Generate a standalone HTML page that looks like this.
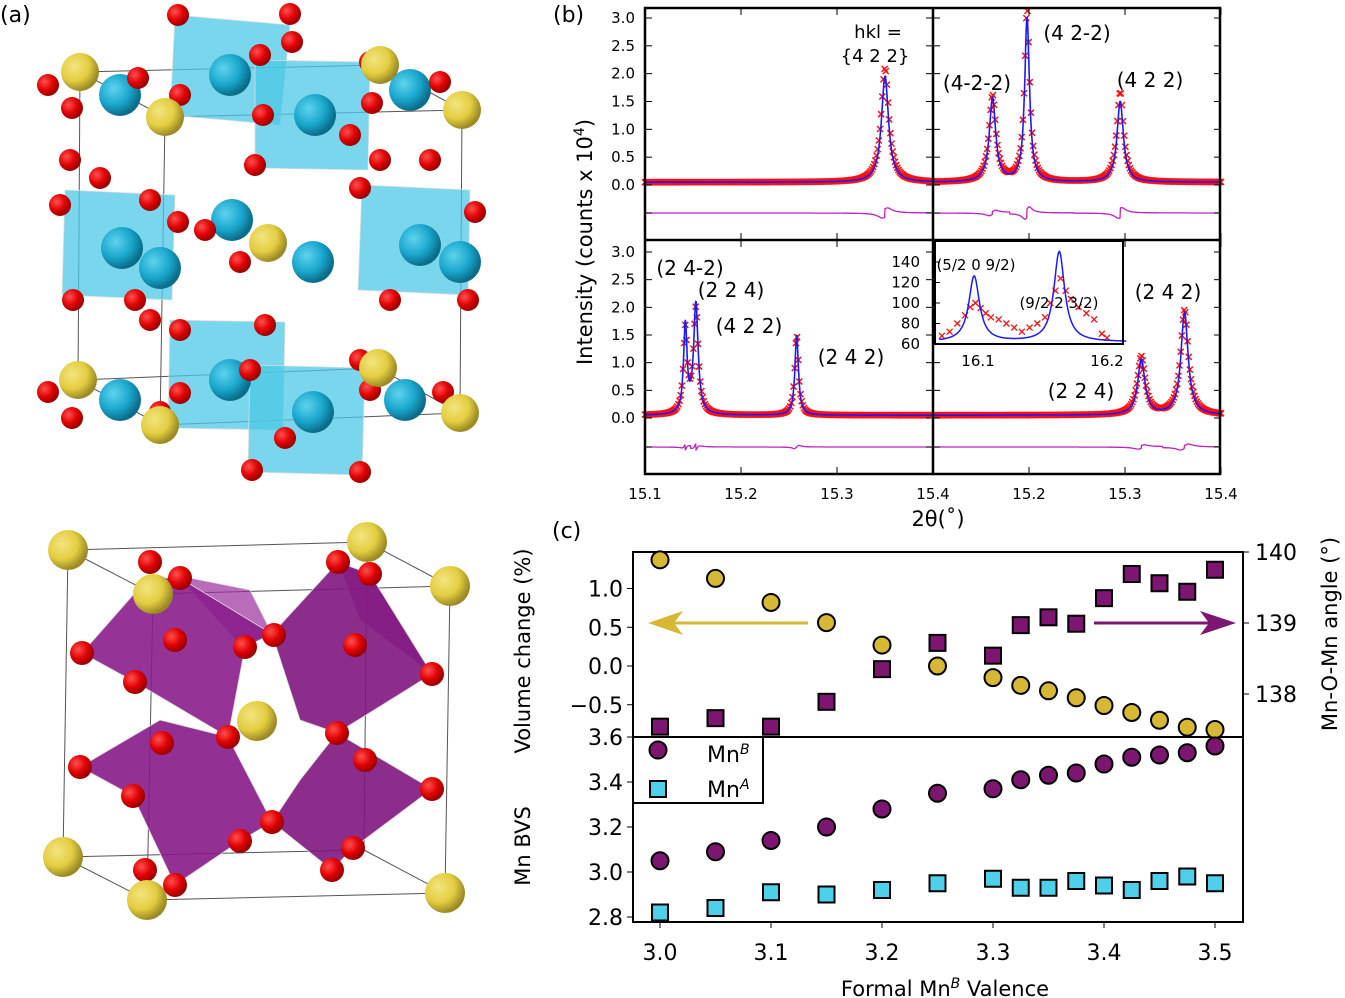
<!DOCTYPE html>
<html><head><meta charset="utf-8"><style>
body{margin:0;background:#fff;}
svg{display:block;font-family:"DejaVu Sans","Liberation Sans",sans-serif;}
</style></head><body>
<svg id="fig" width="1345" height="998" viewBox="0 0 1345 998" xmlns="http://www.w3.org/2000/svg">
<defs>
<radialGradient id="gRed" cx="35%" cy="35%" r="65%"><stop offset="0" stop-color="#ff5050"/><stop offset="0.6" stop-color="#e00000"/><stop offset="1" stop-color="#900"/></radialGradient>
<radialGradient id="gYel" cx="35%" cy="35%" r="65%"><stop offset="0" stop-color="#f3e580"/><stop offset="0.6" stop-color="#e3cd40"/><stop offset="1" stop-color="#9b8a25"/></radialGradient>
<radialGradient id="gTeal" cx="35%" cy="35%" r="65%"><stop offset="0" stop-color="#5fd3ef"/><stop offset="0.6" stop-color="#19a6cc"/><stop offset="1" stop-color="#0b6c88"/></radialGradient>
</defs>
<g id="panelA"></g>
<text x="0" y="22" font-size="22">(a)</text>
<text x="553" y="22" font-size="22">(b)</text>
<text x="552" y="538" font-size="22">(c)</text>
<g id="panelB"></g>
<g id="panelC"></g>
</svg>
<script>
// ---------- Panel (b) data ----------
const bPeakPos = [[15.35],[15.162,15.198,15.295],[15.142,15.153,15.258],[15.317,15.362]];
const bCalcH  = [[1.9],[1.5,2.95,1.45],[1.6,2.0,1.45],[1.0,1.85]];
const bObsH   = [[2.05],[1.55,3.1,1.62],[1.5,1.9,1.45],[1.05,1.9]];
const bWidth  = [[0.0045],[0.004,0.003,0.004],[0.0022,0.0028,0.0022],[0.0045,0.0045]];
const bTicksX = ["15.1","15.2","15.3","15.4"];
const bTicksY = ["0.0","0.5","1.0","1.5","2.0","2.5","3.0"];
const insetCalcPos = [16.097,16.163];
const insetCalcH = [64,88];
const insetObsX = [16.072,16.078,16.084,16.09,16.094,16.098,16.102,16.106,16.11,16.116,16.122,16.128,16.134,16.14,16.146,16.152,16.156,16.16,16.164,16.168,16.172,16.178,16.184,16.19,16.196,16.2];
const insetObsY = [68,72,80,88,96,100,95,90,86,84,80,76,72,76,80,86,100,112,124,112,104,96,90,84,70,66];
const insetTicks = ["60","80","100","120","140"];
// ---------- Panel (c) data ----------
const cValence = [3.0,3.05,3.1,3.15,3.2,3.25,3.3,3.325,3.35,3.375,3.4,3.425,3.45,3.475,3.5];
const cVolume  = [1.37,1.13,0.82,0.56,0.27,0.0,-0.15,-0.25,-0.32,-0.41,-0.51,-0.6,-0.7,-0.79,-0.82];
const cAngle   = [137.54,137.66,137.54,137.89,138.35,138.72,138.54,138.97,139.08,138.99,139.35,139.69,139.56,139.44,139.75];
const cMnB     = [3.05,3.09,3.14,3.20,3.28,3.35,3.37,3.41,3.43,3.44,3.48,3.51,3.52,3.53,3.56];
const cMnA     = [2.82,2.84,2.91,2.90,2.92,2.95,2.97,2.93,2.93,2.96,2.94,2.92,2.96,2.98,2.95];
const cTicksX  = ["3.0","3.1","3.2","3.3","3.4","3.5"];
const cTicksVol= ["-0.5","0.0","0.5","1.0"];
const cTicksAng= ["138","139","140"];
const cTicksBVS= ["2.8","3.0","3.2","3.4","3.6"];

const NS="http://www.w3.org/2000/svg";
function mk(parent,tag,attrs,txt){const e=document.createElementNS(NS,tag);for(const k in attrs)e.setAttribute(k,attrs[k]);if(txt!==undefined)e.textContent=txt;parent.appendChild(e);return e;}

// ---------- Panel A (illustration) ----------
const A=document.getElementById('panelA');
function ball(x,y,r,g,name){const c=mk(A,'circle',{cx:x,cy:y,r:r,fill:'url(#'+g+')'});

}
function poly(pts,fill,op,name){const p=mk(A,'polygon',{points:pts,fill:fill,'fill-opacity':op,stroke:'#ddd','stroke-width':0.8});

}
function line(x1,y1,x2,y2,name){const l=mk(A,'line',{x1,y1,x2,y2,stroke:'#555','stroke-width':1});

}
// top structure
[[80,72,380,65],[380,65,462,110],[80,72,165,117],[165,117,462,110],[80,72,78,380],[165,117,160,425],[462,110,460,413],[78,380,160,425],[160,425,460,413],[78,380,378,368],[378,368,460,413]].forEach(s=>line(...s,'unit-cell-edge'));
const sq=[[175,15,290,25,280,125,170,115],[255,60,370,62,368,170,255,168],[65,190,175,195,172,300,62,295],[362,185,470,190,468,295,358,290],[170,320,285,322,283,430,168,428],[250,365,365,368,362,475,248,472]];
sq.forEach(p=>poly(p.join(','),'#4cc8e6',0.75,'mn-square-plane'));
[[120,95],[230,75],[315,115],[410,90],[122,248],[160,268],[232,220],[313,262],[420,245],[460,262],[120,400],[230,380],[313,412],[405,400]].forEach(p=>ball(p[0],p[1],21,'gTeal','mn-atom'));
[[178,15],[290,14],[260,55],[292,42],[255,165],[370,62],[380,160],[350,135],[263,115],[48,85],[72,108],[138,78],[180,95],[372,103],[440,82],[70,160],[100,178],[60,205],[150,200],[178,222],[150,320],[135,300],[73,300],[205,230],[240,262],[360,188],[430,160],[475,212],[468,300],[390,300],[180,330],[265,325],[285,438],[160,412],[48,392],[72,418],[180,393],[370,390],[443,392],[252,470],[360,472],[250,370],[360,360]].forEach(p=>ball(p[0],p[1],11,'gRed','oxygen-atom'));
[[80,72],[165,117],[380,65],[462,110],[268,243],[78,380],[160,425],[378,368],[460,413]].forEach(p=>ball(p[0],p[1],19,'gYel','a-site-atom'));
// bottom structure
[[68,550,367,542],[367,542,450,586],[68,550,153,594],[153,594,450,586],[68,550,63,857],[153,594,147,900],[450,586,445,893],[367,542,364,850],[63,857,147,900],[147,900,445,893],[63,857,364,850],[364,850,445,893]].forEach(s=>line(...s,'unit-cell-edge'));
poly('175,575,250,590,272,634,240,645,180,578','#9a2d9b',0.7,'octahedron');
poly('338,562,370,574,432,674,360,620','#9a2d9b',0.7,'octahedron');
poly('82,653,148,578,180,578,272,634,245,647,228,737,135,682','#8a1d8c',0.9,'octahedron');
poly('272,634,338,562,370,574,432,674,337,733,300,720','#7f1680',0.9,'octahedron');
poly('80,767,160,720,228,737,272,822,240,841,175,885,133,796','#861a88',0.9,'octahedron');
poly('272,822,300,780,337,733,432,789,353,848,332,870','#7f1680',0.9,'octahedron');
[[150,562],[180,578],[245,647],[135,682],[82,653],[274,635],[338,562],[370,574],[355,645],[432,674],[337,733],[228,737],[175,640],[80,767],[162,743],[133,796],[240,841],[175,885],[272,822],[353,848],[432,789],[365,760],[332,870],[145,870]].forEach(p=>ball(p[0],p[1],12,'gRed','oxygen-atom'));
[[68,550],[153,594],[367,542],[450,586],[63,857],[147,900],[445,893],[257,721]].forEach(p=>ball(p[0],p[1],20,'gYel','a-site-atom'));

// ---------- Panel B ----------
const B=document.getElementById('panelB');
const bX0=645, bXm=933, bX1=1220, bT=8, bM=240, bBot=474;
const quads=[[bX0,18,185,213],[bXm,18,185,213],[bX0,252,418,447],[bXm,252,418,447]];
function lor(x,pos,h,w){let s=0.05;for(let i=0;i<pos.length;i++){const d=(x-pos[i])/w[i];s+=h[i]/(1+d*d);}return s;}
quads.forEach((q,k)=>{
 const [x0,y3,y0,yd]=q;
 const sx=v=>x0+(v-15.1)/0.3*288;
 const sy=v=>y0-(v)*(y0-y3)/3;
 const g=mk(B,'g',{});
 
 
 let path='';
 for(let x=15.1;x<=15.4001;x+=0.0012){
   const wObs=bWidth[k].map(w=>w*1.08);
   const v=lor(x,bPeakPos[k],bObsH[k],wObs);
   const px=sx(x),py=sy(v);
   path+=`M${px-3},${py-3}L${px+3},${py+3}M${px-3},${py+3}L${px+3},${py-3}`;
 }
 const obs=mk(g,'path',{d:path,stroke:'#ff1010','stroke-width':1.5,fill:'none'});
 
 
 let cp='',dp='';
 for(let x=15.1;x<=15.4001;x+=0.0004){
   const c=lor(x,bPeakPos[k],bCalcH[k],bWidth[k]);
   const o=lor(x,bPeakPos[k],bObsH[k],bWidth[k].map(w=>w*1.08));
   let near=bPeakPos[k][0];bPeakPos[k].forEach(p=>{if(Math.abs(x-p)<Math.abs(x-near))near=p;});
   dp+=(dp?'L':'M')+sx(x).toFixed(1)+','+(yd-(o-c)*30*Math.sign(x-near+0.0001)).toFixed(1);
   cp+=(cp?'L':'M')+sx(x).toFixed(1)+','+sy(c).toFixed(1);
 }
 const cl=mk(g,'path',{d:cp,stroke:'#1a1aff','stroke-width':1.6,fill:'none'});
 
 
 const dl=mk(g,'path',{d:dp,stroke:'#c020c0','stroke-width':1.3,fill:'none'});
 
 
 bTicksY.forEach((t,i)=>{const y=sy(parseFloat(t));mk(g,'line',{x1:x0,y1:y,x2:x0+7,y2:y,stroke:'#000'});mk(g,'line',{x1:x0+288-7,y1:y,x2:x0+288,y2:y,stroke:'#000'});});
 mk(g,'line',{x1:x0,y1:yd,x2:x0+7,y2:yd,stroke:'#000'});mk(g,'line',{x1:x0+281,y1:yd,x2:x0+288,y2:yd,stroke:'#000'});
 const yt=k<2?bT:bM, yb=k<2?bM:bBot;
 bTicksX.forEach(t=>{const x=sx(parseFloat(t));mk(g,'line',{x1:x,y1:yt,x2:x,y2:yt+7,stroke:'#000'});mk(g,'line',{x1:x,y1:yb,x2:x,y2:yb-7,stroke:'#000'});});
 if(k%2===0){bTicksY.forEach(t=>{const e=mk(g,'text',{x:x0-10,y:sy(parseFloat(t))+5,'font-size':15,'text-anchor':'end'},t);
 
 });}
 if(k>=2){bTicksX.forEach((t,i)=>{if(k===3&&i===0)return;const e=mk(g,'text',{x:sx(parseFloat(t)),y:499,'font-size':15,'text-anchor':'middle'},t);
 
 });}
});
mk(B,'rect',{x:bX0,y:bT,width:bX1-bX0,height:bBot-bT,fill:'none',stroke:'#000','stroke-width':2.5});
mk(B,'line',{x1:bXm,y1:bT,x2:bXm,y2:bBot,stroke:'#000','stroke-width':2.5});
mk(B,'line',{x1:bX0,y1:bM,x2:bX1,y2:bM,stroke:'#000','stroke-width':2.5});
// inset
const iX0=935,iX1=1123,iT=241,iB=344;
const ix=v=>978+(v-16.1)/0.1*129, iy=v=>344-(v-60)*(344-262)/80;
mk(B,'rect',{x:iX0,y:iT,width:iX1-iX0,height:iB-iT,fill:'#fff'});
let ip='';insetObsX.forEach((x,i)=>{const px=ix(x),py=iy(insetObsY[i]);ip+=`M${px-3},${py-3}L${px+3},${py+3}M${px-3},${py+3}L${px+3},${py-3}`;});
const io=mk(B,'path',{d:ip,stroke:'#ff1010','stroke-width':1.3,fill:'none'});


let ic='';for(let x=16.07;x<=16.2151;x+=0.0005){let s=62;insetCalcPos.forEach((p,i)=>{const d=(x-p)/0.005;s+=insetCalcH[i]/(1+d*d);});ic+=(ic?'L':'M')+ix(x).toFixed(1)+','+iy(s).toFixed(1);}
const icl=mk(B,'path',{d:ic,stroke:'#1a1aff','stroke-width':1.5,fill:'none'});


mk(B,'rect',{x:iX0,y:iT,width:iX1-iX0,height:iB-iT,fill:'none',stroke:'#000','stroke-width':2});
insetTicks.forEach(t=>{const y=iy(+t);mk(B,'line',{x1:iX0,y1:y,x2:iX0+5,y2:y,stroke:'#000'});const e=mk(B,'text',{x:920,y:y+5,'font-size':15,'text-anchor':'end'},t);

});
["16.1","16.2"].forEach(t=>{const e=mk(B,'text',{x:ix(+t),y:366,'font-size':15,'text-anchor':'middle'},t);

});
const ann=[[878,38,"hkl =",18],[875,62,"{4 2 2}",18],[1077,40,"(4 2-2)",20],[977,90,"(4-2-2)",20],[1150,87,"(4 2 2)",20],[690,275,"(2 4-2)",20],[731,297,"(2 2 4)",20],[749,333,"(4 2 2)",20],[851,364,"(2 4 2)",20],[1168,299,"(2 4 2)",20],[1081,398,"(2 2 4)",20],[976,270,"(5/2 0 9/2)",15],[1059,308,"(9/2 2 3/2)",15]];
ann.forEach(a=>{const e=mk(B,'text',{x:a[0],y:a[1],'font-size':a[3],'text-anchor':'middle'},a[2]);

});
const yl=mk(B,'text',{x:0,y:0,'font-size':21,'text-anchor':'middle',transform:'translate(592,242) rotate(-90)'});
yl.innerHTML='Intensity (counts x 10<tspan baseline-shift="super" font-size="14">4</tspan>)';


const xl=mk(B,'text',{x:938,y:526,'font-size':21,'text-anchor':'middle'},'2θ(˚)');



// ---------- Panel C ----------
const C=document.getElementById('panelC');
const cL=633,cR=1243,cT=552,cM=737,cB=922;
const cx=v=>660+(v-3.0)/0.5*555;
const cyV=v=>666-v*77.5;
const cyA=v=>623-(v-139)*71;
const cyB=v=>737+(3.6-v)*225;
mk(C,'rect',{x:cL,y:cT,width:cR-cL,height:cB-cT,fill:'none',stroke:'#000','stroke-width':2});
mk(C,'line',{x1:cL,y1:cM,x2:cR,y2:cM,stroke:'#000','stroke-width':2});
cTicksX.forEach(t=>{const x=cx(+t);mk(C,'line',{x1:x,y1:cB,x2:x,y2:cB+6,stroke:'#000'});const e=mk(C,'text',{x:x,y:960,'font-size':22,'text-anchor':'middle'},t);

});
cTicksVol.forEach(t=>{const y=cyV(+t);mk(C,'line',{x1:cL-6,y1:y,x2:cL,y2:y,stroke:'#000'});const e=mk(C,'text',{x:cL-10,y:y+8,'font-size':22,'text-anchor':'end'},t.replace('-','−'));

});
cTicksAng.forEach(t=>{const y=cyA(+t);mk(C,'line',{x1:cR,y1:y,x2:cR+6,y2:y,stroke:'#000'});const e=mk(C,'text',{x:cR+12,y:y+8,'font-size':22},t);

});
cTicksBVS.forEach(t=>{const y=cyB(+t);mk(C,'line',{x1:cL-6,y1:y,x2:cL,y2:y,stroke:'#000'});const e=mk(C,'text',{x:cL-10,y:y+8,'font-size':22,'text-anchor':'end'},t);

});
cValence.forEach((v,i)=>{
 const a=mk(C,'rect',{x:cx(v)-8,y:cyA(cAngle[i])-8,width:16,height:16,fill:'#7d1670',stroke:'#000','stroke-width':2});
 
 
 const b=mk(C,'circle',{cx:cx(v),cy:cyV(cVolume[i]),r:8.5,fill:'#d6b834',stroke:'#000','stroke-width':2});
 
 
 const c=mk(C,'circle',{cx:cx(v),cy:cyB(cMnB[i]),r:8.5,fill:'#7d1670',stroke:'#000','stroke-width':2});
 
 
 const d=mk(C,'rect',{x:cx(v)-8,y:cyB(cMnA[i])-8,width:16,height:16,fill:'#4fd0ea',stroke:'#000','stroke-width':2});
 
 
});
mk(C,'line',{x1:808,y1:623,x2:665,y2:623,stroke:'#d6b834','stroke-width':3});
const ah1=mk(C,'polygon',{points:'648,623,683,611,674,623,683,635',fill:'#d6b834'});


mk(C,'line',{x1:1094,y1:623,x2:1222,y2:623,stroke:'#7d1670','stroke-width':3});
const ah2=mk(C,'polygon',{points:'1236,623,1200,611,1209,623,1200,635',fill:'#7d1670'});


const lg=mk(C,'g',{});


mk(lg,'rect',{x:cL,y:cM,width:130,height:66,fill:'#fff',stroke:'#000','stroke-width':2});
mk(lg,'circle',{cx:658,cy:750,r:8.5,fill:'#7d1670',stroke:'#000','stroke-width':2});
mk(lg,'rect',{x:650,y:781,width:16,height:16,fill:'#4fd0ea',stroke:'#000','stroke-width':2});
const l1=mk(lg,'text',{x:707,y:762,'font-size':22});l1.innerHTML='Mn<tspan baseline-shift="super" font-size="14" font-style="italic">B</tspan>';


const l2=mk(lg,'text',{x:707,y:797,'font-size':22});l2.innerHTML='Mn<tspan baseline-shift="super" font-size="14" font-style="italic">A</tspan>';


const t1=mk(C,'text',{x:0,y:0,'font-size':21,'text-anchor':'middle',transform:'translate(530,651) rotate(-90)'},'Volume change (%)');


const t2=mk(C,'text',{x:0,y:0,'font-size':21,'text-anchor':'middle',transform:'translate(530,846) rotate(-90)'},'Mn BVS');


const t3=mk(C,'text',{x:0,y:0,'font-size':21,'text-anchor':'middle',transform:'translate(1337,634) rotate(-90)'},'Mn-O-Mn angle (°)');


const t4=mk(C,'text',{x:945,y:996,'font-size':21,'text-anchor':'middle'});t4.innerHTML='Formal Mn<tspan baseline-shift="super" font-size="14" font-style="italic">B</tspan> Valence';


</script>
</body></html>
